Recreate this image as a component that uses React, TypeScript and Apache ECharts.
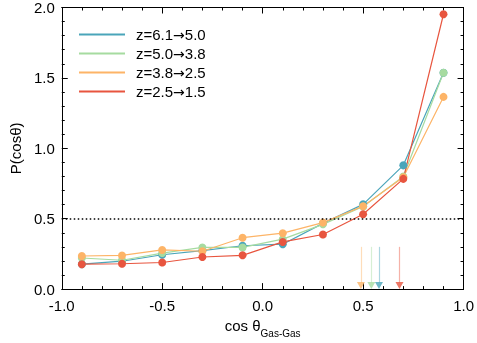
import React, { useEffect, useRef } from "react";
import * as echarts from "echarts";

const xValues = [-0.9, -0.7, -0.5, -0.3, -0.1, 0.1, 0.3, 0.5, 0.7, 0.9];
const seriesNames = ["z=6.1\u21925.0", "z=5.0\u21923.8", "z=3.8\u21922.5", "z=2.5\u21921.5"];
const blueValues = [0.177, 0.198, 0.244, 0.273, 0.308, 0.319, 0.467, 0.602, 0.879, 1.537];
const greenValues = [0.221, 0.205, 0.256, 0.296, 0.296, 0.355, 0.46, 0.587, 0.8, 1.537];
const orangeValues = [0.235, 0.239, 0.278, 0.269, 0.365, 0.397, 0.472, 0.589, 0.794, 1.365];
const redValues = [0.177, 0.18, 0.189, 0.228, 0.24, 0.335, 0.388, 0.532, 0.783, 1.952];
const arrowX = [0.579, 0.541, 0.489, 0.681];
const arrowTop = 0.3;
const arrowTip = 0.025;
const refLine = 0.5;
const colors = ["#4aa5ba", "#a6dba0", "#fdb467", "#e8553f"];

const FONT = "'Liberation Sans', Arial, Helvetica, sans-serif";

export default function App() {
  const ref = useRef<HTMLDivElement>(null);
  useEffect(() => {
    if (!ref.current) return;
    const chart = echarts.init(ref.current, undefined, { renderer: "svg" });
    const all = [blueValues, greenValues, orangeValues, redValues];
    const lineSeries = all.map((vals, i) => ({
      type: "line",
      name: seriesNames[i],
      data: xValues.map((x, j) => [x, vals[j]]),
      color: colors[i],
      symbol: "circle",
      symbolSize: 8,
      showSymbol: true,
      lineStyle: { width: 1.2, color: colors[i] },
      itemStyle: { color: colors[i] },
      markLine: {
        silent: true,
        symbol: ["none", "none"],
        label: { show: false },
        lineStyle: { color: colors[i], width: 1.2, type: "solid", opacity: 0.45 },
        data: [[{ coord: [arrowX[i], arrowTop] }, { coord: [arrowX[i], arrowTip + 0.02] }]],
      },
    }));
    const axisCommon = {
      type: "value",
      axisLine: { show: true, onZero: false, lineStyle: { color: "#000", width: 1 } },
      axisTick: { show: true, inside: true, length: 6, lineStyle: { color: "#000", width: 1 } },
      minorTick: { show: true, splitNumber: 5, length: 3, lineStyle: { color: "#000", width: 1 } },
      splitLine: { show: false },
    };
    chart.setOption({
      animation: false,
      grid: { left: 55, right: 12, top: 5, bottom: 46 },
      legend: {
        left: 74,
        top: 22,
        orient: "vertical",
        icon: "rect",
        itemWidth: 46,
        itemHeight: 2,
        itemGap: 4,
        data: seriesNames,
        formatter: (name: string) => name.replace("\u2192", "{arr|\u2192}"),
        textStyle: {
          fontFamily: FONT,
          fontSize: 15,
          color: "#000",
          lineHeight: 15,
          padding: [0, 0, 0, 6],
          rich: {
            arr: { fontFamily: "'DejaVu Sans'", fontSize: 14, color: "#000", lineHeight: 15 },
          },
        },
      },
      xAxis: [
        {
          ...axisCommon,
          min: -1,
          max: 1,
          interval: 0.5,
          position: "bottom",
          axisLabel: {
            fontFamily: FONT,
            fontSize: 15,
            color: "#000",
            margin: 9,
            formatter: (v: number) => v.toFixed(1),
          },
          name: "{a|cos \u03b8}{b|Gas-Gas}",
          nameLocation: "middle",
          nameGap: 26,
          nameTextStyle: {
            rich: {
              a: { fontFamily: FONT, fontSize: 15, color: "#000", lineHeight: 20, verticalAlign: "top" },
              b: { fontFamily: FONT, fontSize: 10, color: "#000", lineHeight: 20, verticalAlign: "bottom" },
            },
          },
        },
        {
          ...axisCommon,
          min: -1,
          max: 1,
          interval: 0.5,
          position: "top",
          axisLabel: { show: false },
        },
      ],
      yAxis: [
        {
          ...axisCommon,
          min: 0,
          max: 2,
          interval: 0.5,
          position: "left",
          axisLabel: {
            fontFamily: FONT,
            fontSize: 15,
            color: "#000",
            margin: 7,
            formatter: (v: number) => v.toFixed(1),
          },
          name: "P(cos\u03b8)",
          nameLocation: "middle",
          nameGap: 30,
          nameTextStyle: { fontFamily: FONT, fontSize: 15, color: "#000" },
        },
        {
          ...axisCommon,
          min: 0,
          max: 2,
          interval: 0.5,
          position: "right",
          axisLabel: { show: false },
        },
      ],
      series: [
        ...lineSeries,
        {
          type: "scatter",
          name: "arrows",
          symbol: "triangle",
          symbolRotate: 180,
          symbolSize: [8, 7],
          data: arrowX.map((x, i) => ({ value: [x, arrowTip], itemStyle: { color: colors[i] } })),
          z: 5,
          markLine: {
            silent: true,
            symbol: ["none", "none"],
            label: { show: false },
            lineStyle: { color: "#000", width: 1.5, type: [1.5, 2.5] },
            data: [{ yAxis: refLine }],
          },
        },
      ],
    });
    return () => chart.dispose();
  }, []);
  return <div ref={ref} style={{ position: "fixed", left: 0, top: 0, width: 477, height: 343 }} />;
}
